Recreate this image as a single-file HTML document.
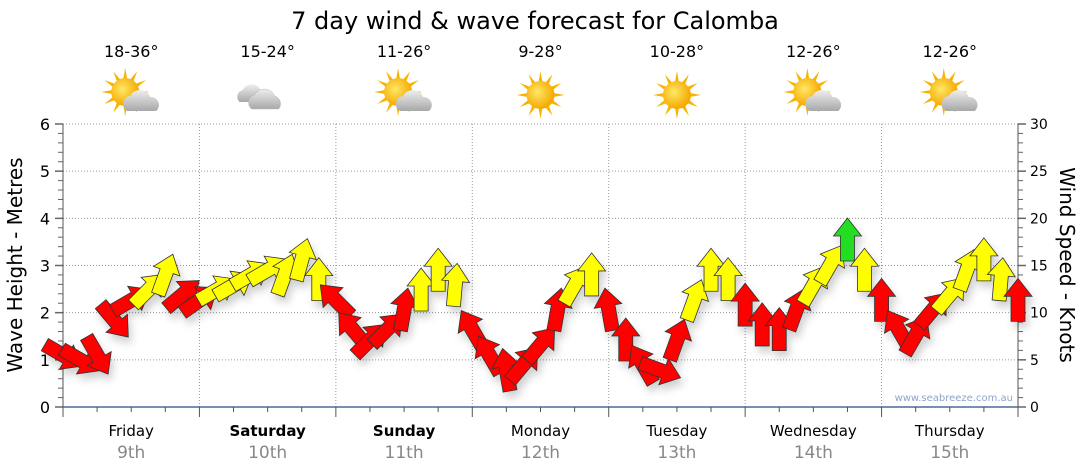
<!DOCTYPE html>
<html><head><meta charset="utf-8"><style>
body{margin:0;background:#fff;font-family:"DejaVu Sans","Liberation Sans",sans-serif;}
svg{display:block}
</style></head><body>
<svg id="c" width="1080" height="475" viewBox="0 0 1080 475">
<defs>
<radialGradient id="sg" cx="0.4" cy="0.4" r="0.6"><stop offset="0" stop-color="#ffe866"/><stop offset="1" stop-color="#f5a800"/></radialGradient>
<linearGradient id="cg" x1="0" y1="0" x2="0" y2="1"><stop offset="0" stop-color="#eee"/><stop offset="1" stop-color="#a8a8a8"/></linearGradient>
<filter id="sh" x="-50%" y="-50%" width="200%" height="200%"><feDropShadow dx="3" dy="6" stdDeviation="4" flood-color="#000" flood-opacity="0.18"/></filter>
</defs>
<text x="535" y="29" font-size="24" text-anchor="middle" fill="#000">7 day wind &amp; wave forecast for Calomba</text>
<g id="grid"></g><g id="axes"></g><g id="icons"></g><g id="arrows" filter="url(#sh)"></g>
<text x="1013" y="401" font-size="10" text-anchor="end" fill="#8aa6c8">www.seabreeze.com.au</text>
<text transform="translate(22,265) rotate(-90)" font-size="20" text-anchor="middle">Wave Height - Metres</text>
<text transform="translate(1060,265) rotate(90)" font-size="20" text-anchor="middle">Wind Speed - Knots</text>
</svg>
<script>
const days=["Friday","Saturday","Sunday","Monday","Tuesday","Wednesday","Thursday"];
const dates=["9th","10th","11th","12th","13th","14th","15th"];
const boldDays=[false,true,true,false,false,false,false];
const temps=["18-36°","15-24°","11-26°","9-28°","10-28°","12-26°","12-26°"];
const weather=["suncloud","cloud","suncloud","sun","sun","suncloud","suncloud"];
const waveTicks=[0,1,2,3,4,5,6];
const windTicks=[0,5,10,15,20,25,30];
const hours=[0,3,6,9,12,15,18,21,24,27,30,33,36,39,42,45,48,51,54,57,60,63,66,69,72,75,78,81,84,87,90,93,96,99,102,105,108,111,114,117,120,123,126,129,132,135,138,141,144,147,150,153,156,159,162,165,168];
const knots=[5.5,5.0,5.5,9.2,11.3,12.4,14.0,11.9,11.3,12.4,12.9,14.0,14.5,14.0,15.6,13.5,11.3,8.2,7.1,8.2,10.3,12.4,14.5,12.9,8.2,5.5,3.9,4.5,6.6,10.3,12.9,14.0,10.3,7.1,4.5,3.9,7.1,11.3,14.5,13.5,10.8,8.7,8.2,10.3,12.9,15.1,17.7,14.5,11.3,8.2,7.6,10.3,11.9,14.5,15.6,13.5,11.3];
const dirs=[120,120,150,140,60,45,20,50,55,60,60,60,60,20,15,0,315,320,45,45,10,0,0,5,330,330,350,40,40,10,30,0,350,0,330,110,20,20,0,0,0,0,0,20,30,30,0,0,0,330,30,40,40,20,0,5,0];
const cols=["r","r","r","r","r","y","y","r","r","y","y","y","y","y","y","y","r","r","r","r","r","y","y","y","r","r","r","r","r","r","y","y","r","r","r","r","r","y","y","y","r","r","r","r","y","y","g","y","r","r","r","r","y","y","y","y","r"];
const NS="http://www.w3.org/2000/svg";
const X0=63,X1=1018,Y0=407,Y1=124;
const xh=h=>X0+(X1-X0)*h/168, yw=m=>Y0-(Y0-Y1)*m/6, yk=k=>Y0-(Y0-Y1)*k/30;
function mk(p,t,a){const e=document.createElementNS(NS,t);for(const k in a)e.setAttribute(k,a[k]);p.appendChild(e);return e;}
const G=document.getElementById('grid'),A=document.getElementById('axes'),I=document.getElementById('icons'),R=document.getElementById('arrows');
waveTicks.forEach((m,i)=>{
 if(m>0){const l=mk(G,'line',{x1:X0,x2:X1,y1:yw(m),y2:yw(m),stroke:'#999','stroke-dasharray':'1,2'});
 
 }
 const t=mk(A,'text',{x:X0-13,y:yw(m)+6,'font-size':16,'text-anchor':'end',fill:'#000'});t.textContent=m;
 
 
});
windTicks.forEach(k=>{
 const t=mk(A,'text',{x:X1+12,y:yk(k)+5,'font-size':14,fill:'#000'});t.textContent=k;
 
 
});
for(let i=0;i<=30;i++){const y=Y0-(Y0-Y1)*i/30;const maj=i%5==0;
 mk(A,'line',{x1:X0-(maj?8:5),x2:X0,y1:y,y2:y,stroke:'#666','stroke-width':maj?1.5:1});
 mk(A,'line',{x1:X1,x2:X1+(maj?8:5),y1:y,y2:y,stroke:'#666','stroke-width':maj?1.5:1});}
mk(A,'line',{x1:X0,x2:X0,y1:Y1,y2:Y0,stroke:'#555'});
mk(A,'line',{x1:X1,x2:X1,y1:Y1,y2:Y0,stroke:'#555'});
mk(A,'line',{x1:X0,x2:X1,y1:Y0,y2:Y0,stroke:'#4a6a9a','stroke-width':1.5});
for(let h=0;h<=168;h+=6){const x=xh(h);mk(A,'line',{x1:x,x2:x,y1:Y0,y2:Y0+(h%24==0?10:5),stroke:'#555'});}
days.forEach((d,i)=>{
 const cx=xh(i*24+12);
 if(i>0){const l=mk(G,'line',{x1:xh(i*24),x2:xh(i*24),y1:Y1,y2:Y0,stroke:'#999','stroke-dasharray':'1,2'});
 
 }
 const t=mk(A,'text',{x:cx,y:436,'font-size':15,'text-anchor':'middle',fill:'#000','font-weight':boldDays[i]?'bold':'normal'});t.textContent=d;
 
 
 const t2=mk(A,'text',{x:cx,y:458,'font-size':17,'text-anchor':'middle',fill:'#888'});t2.textContent=dates[i];
 
 
 const t3=mk(I,'text',{x:cx,y:57,'font-size':16,'text-anchor':'middle',fill:'#000'});t3.textContent=temps[i];
 
 
 const g=mk(I,'g',{transform:`translate(${cx},95)`});
 
 
 const w=weather[i];
 if(w!='cloud'){const sx=w=='sun'?0:-6,sy=w=='sun'?0:-3;
  for(let a=0;a<360;a+=30){const r=a*Math.PI/180;mk(g,'polygon',{points:`${sx+Math.cos(r)*24},${sy+Math.sin(r)*24} ${sx+Math.cos(r+0.15)*13},${sy+Math.sin(r+0.15)*13} ${sx+Math.cos(r-0.15)*13},${sy+Math.sin(r-0.15)*13}`,fill:'#f7b400'});}
  mk(g,'circle',{cx:sx,cy:sy,r:14,fill:'url(#sg)'});}
 if(w=='suncloud'){mk(g,'path',{d:'M-4,16 a8,8 0 0 1 3,-15 a11,11 0 0 1 20,1 a8,8 0 0 1 6,14 z',fill:'url(#cg)'});}
 if(w=='cloud'){mk(g,'path',{d:'M-28,7 a7,7 0 0 1 3,-12 a10,10 0 0 1 18,0 a7,7 0 0 1 2,12 z',fill:'url(#cg)'});
  mk(g,'path',{d:'M-16,14 a8,8 0 0 1 3,-14 a11,11 0 0 1 20,1 a8,8 0 0 1 4,13 z',fill:'url(#cg)',stroke:'#bbb','stroke-width':0.5});}
});
const fill={r:'#ff0000',y:'#ffff00',g:'#22dd22'};
hours.forEach((h,i)=>{
 const x=xh(h),y=yk(knots[i]);
 const p=mk(R,'polygon',{points:'-7,21 7,21 7,-4 14,-4 0,-22 -14,-4 -7,-4',fill:fill[cols[i]],stroke:'#333','stroke-width':0.8,transform:`translate(${x},${y}) rotate(${dirs[i]})`});
 
 
});
</script>
</body></html>
